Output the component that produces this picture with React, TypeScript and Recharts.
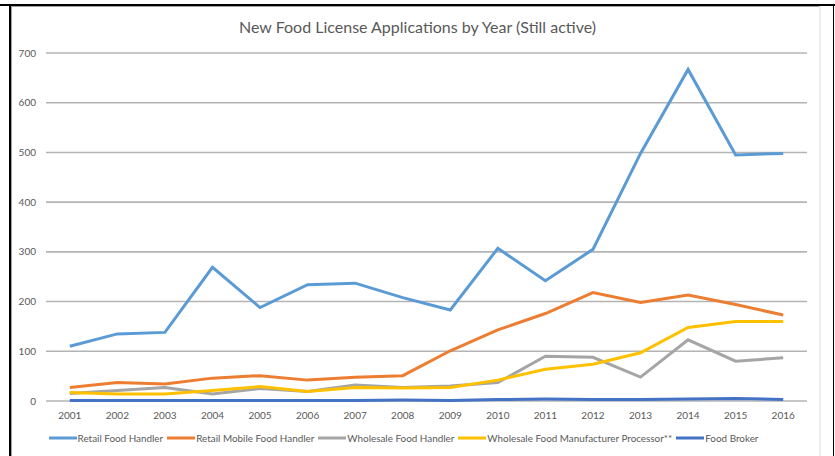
import { LineChart, Line, XAxis, YAxis, CartesianGrid, Legend } from 'recharts';

const years = ['2001', '2002', '2003', '2004', '2005', '2006', '2007', '2008', '2009', '2010', '2011', '2012', '2013', '2014', '2015', '2016'];

const retailFoodHandler = [110, 135, 138, 269, 188, 234, 237, 208, 183, 307, 242, 305, 498, 667, 495, 498];
const retailMobileFoodHandler = [27, 37, 34, 46, 51, 42, 48, 51, 101, 143, 176, 218, 198, 213, 194, 173];
const wholesaleFoodHandler = [15, 21, 27, 14, 25, 19, 32, 27, 30, 37, 90, 88, 48, 123, 80, 87];
const wholesaleManufacturer = [17, 14, 14, 21, 29, 19, 27, 26, 27, 42, 64, 74, 97, 148, 160, 160];
const foodBroker = [1, 1, 1, 1, 1, 1, 1, 2, 1, 3, 4, 3, 3, 4, 5, 3];

const yTicks = [0, 100, 200, 300, 400, 500, 600, 700];

const series = [
  { key: 'retail', name: 'Retail Food Handler', color: '#5B9BD5', values: retailFoodHandler },
  { key: 'mobile', name: 'Retail Mobile Food Handler', color: '#ED7D31', values: retailMobileFoodHandler },
  { key: 'wholesale', name: 'Wholesale Food Handler', color: '#A5A5A5', values: wholesaleFoodHandler },
  { key: 'manufacturer', name: 'Wholesale Food Manufacturer Processor**', color: '#FFC000', values: wholesaleManufacturer },
  { key: 'broker', name: 'Food Broker', color: '#4472C4', values: foodBroker },
];

const data = years.map((year, i) => {
  const row: Record<string, string | number> = { year };
  series.forEach((s) => {
    row[s.key] = s.values[i];
  });
  return row;
});

const font = 'Lato, "Open Sans", sans-serif';

// keep the legend in series order (recharts sorts its payload by default)
function LegendContent() {
  return (
    <div
      style={{
        display: 'flex',
        justifyContent: 'center',
        alignItems: 'center',
        height: 16,
        fontFamily: font,
        fontSize: 9.9,
        color: '#595959',
        whiteSpace: 'nowrap',
      }}
    >
      {series.map((s) => (
        <span key={s.key} style={{ display: 'flex', alignItems: 'center', marginRight: 4 }}>
          <svg width={28} height={6} style={{ marginRight: 1 }}>
            <line x1={0} y1={3} x2={28} y2={3} stroke={s.color} strokeWidth={3} />
          </svg>
          {s.name}
        </span>
      ))}
    </div>
  );
}

export default function App() {
  return (
    <div style={{ position: 'relative', width: 835, height: 456, background: '#fff', overflow: 'hidden' }}>
      <style>{'body { margin: 0; }'}</style>
      {/* document frame */}
      <div style={{ position: 'absolute', left: 0, top: 4, width: 835, height: 2, background: '#000' }} />
      <div style={{ position: 'absolute', left: 9, top: 4, width: 2, height: 452, background: '#000' }} />
      <div style={{ position: 'absolute', left: 833, top: 4, width: 1, height: 452, background: '#000' }} />
      <div style={{ position: 'absolute', left: 11, top: 6, width: 808, height: 1, background: '#a0a0a0' }} />
      <div style={{ position: 'absolute', left: 11, top: 6, width: 1, height: 450, background: '#a0a0a0' }} />
      <div style={{ position: 'absolute', left: 819, top: 6, width: 2, height: 450, background: '#ececec' }} />
      <div
        style={{
          position: 'absolute',
          top: 17,
          left: 0,
          width: 835,
          textAlign: 'center',
          fontFamily: font,
          fontSize: 16,
          color: '#595959',
        }}
      >
        New Food License Applications by Year (Still active)
      </div>
      <div style={{ position: 'absolute', left: 0, top: 0 }}>
        <LineChart width={835} height={456} data={data} margin={{ top: 53, right: 28, bottom: 10, left: 0 }}>
          <CartesianGrid vertical={false} stroke="#b4b4b4" strokeWidth={1.6} />
          <XAxis
            dataKey="year"
            axisLine={false}
            tickLine={false}
            height={29}
            padding={{ left: 23.8, right: 23.8 }}
            tick={{ fontSize: 10, fill: '#595959', fontFamily: font }}
            tickMargin={5}
            interval={0}
          />
          <YAxis
            domain={[0, 700]}
            ticks={yTicks}
            width={46}
            axisLine={false}
            tickLine={false}
            tick={{ fontSize: 10, fill: '#595959', fontFamily: font }}
            tickMargin={4}
          />
          <Legend verticalAlign="bottom" content={<LegendContent />} wrapperStyle={{ left: -12, width: 835 }} />
          {series.map((s) => (
            <Line
              key={s.key}
              dataKey={s.key}
              name={s.name}
              stroke={s.color}
              strokeWidth={3}
              dot={false}
              activeDot={false}
              type="linear"
              isAnimationActive={false}
            />
          ))}
        </LineChart>
      </div>
    </div>
  );
}
